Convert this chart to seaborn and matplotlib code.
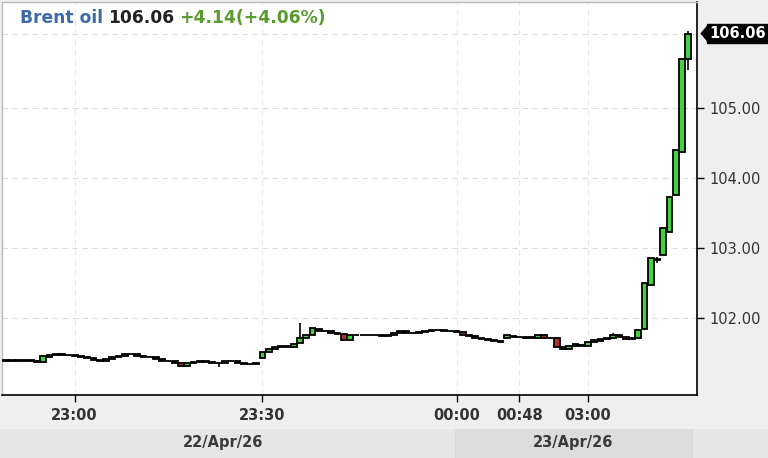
import matplotlib
matplotlib.use('Agg')
import matplotlib.pyplot as plt
import matplotlib.transforms as mtransforms
from matplotlib.patches import Rectangle, Polygon
import seaborn as sns

# one-minute candles, index 0 .. 109
opens = [101.40, 101.39, 101.40, 101.38, 101.40, 101.39, 101.37, 101.44, 101.47, 101.48,
         101.47, 101.47, 101.46, 101.44, 101.43, 101.40, 101.39, 101.41, 101.44, 101.46,
         101.48, 101.49, 101.46, 101.44, 101.44, 101.41, 101.39, 101.38, 101.36, 101.32,
         101.36, 101.37, 101.38, 101.37, 101.36, 101.36, 101.38, 101.39, 101.36, 101.34,
         101.34, 101.43, 101.51, 101.56, 101.58, 101.60, 101.58, 101.64, 101.71, 101.76,
         101.84, 101.82, 101.81, 101.79, 101.77, 101.69, 101.75, 101.76, 101.76, 101.75,
         101.75, 101.74, 101.76, 101.78, 101.81, 101.79, 101.78, 101.80, 101.82, 101.83,
         101.83, 101.82, 101.81, 101.80, 101.76, 101.74, 101.71, 101.70, 101.68, 101.67,
         101.72, 101.74, 101.73, 101.73, 101.72, 101.72, 101.75, 101.72, 101.71, 101.59,
         101.56, 101.60, 101.62, 101.60, 101.65, 101.67, 101.70, 101.71, 101.75, 101.73,
         101.70, 101.72, 101.84, 102.47, 102.84, 102.90, 103.23, 103.76, 104.37, 105.69]
closes = [101.39, 101.40, 101.38, 101.40, 101.39, 101.37, 101.46, 101.47, 101.48, 101.47,
          101.47, 101.46, 101.44, 101.43, 101.40, 101.39, 101.41, 101.44, 101.46, 101.48,
          101.49, 101.46, 101.44, 101.44, 101.41, 101.39, 101.38, 101.36, 101.32, 101.36,
          101.37, 101.38, 101.37, 101.36, 101.36, 101.38, 101.39, 101.36, 101.34, 101.34,
          101.36, 101.51, 101.56, 101.58, 101.60, 101.58, 101.63, 101.72, 101.75, 101.85,
          101.82, 101.81, 101.79, 101.77, 101.69, 101.75, 101.76, 101.76, 101.75, 101.75,
          101.74, 101.76, 101.79, 101.81, 101.79, 101.78, 101.80, 101.82, 101.83, 101.83,
          101.82, 101.81, 101.80, 101.76, 101.74, 101.71, 101.70, 101.68, 101.67, 101.66,
          101.75, 101.73, 101.73, 101.72, 101.73, 101.76, 101.72, 101.71, 101.59, 101.55,
          101.60, 101.63, 101.60, 101.65, 101.68, 101.70, 101.71, 101.75, 101.73, 101.70,
          101.72, 101.83, 102.50, 102.86, 102.82, 103.29, 103.72, 104.40, 105.69, 106.06]
wick_high = {9: 101.50, 47: 101.93, 97: 101.79, 104: 102.87, 109: 106.10}
wick_low = {34: 101.30, 104: 102.78, 109: 105.54}

tick_pos = [11, 41, 72, 82, 93]
tick_labels = ['23:00', '23:30', '00:00', '00:48', '03:00']
y_ticks = [102, 103, 104, 105]
last_price = 106.06
title_parts = [('Brent oil', '#3d6aa8'), ('106.06', '#222222'), ('+4.14(+4.06%)', '#5b9b2e')]
date_labels = ['22/Apr/26', '23/Apr/26']

sns.set_style('white')
plt.rcParams['font.family'] = ['DejaVu Sans']

W, H = 768, 458
fig = plt.figure(figsize=(W / 100, H / 100), dpi=100, facecolor='#efefef')

# date band under the axis
fig.patches.append(Rectangle((0, 0), 1, 29 / H, transform=fig.transFigure,
                             fc='#e6e6e6', ec='none', zorder=0))
fig.patches.append(Rectangle((455 / W, 0), 238 / W, 29 / H, transform=fig.transFigure,
                             fc='#dcdcdc', ec='none', zorder=0))
fig.text(223 / W, 16 / H, date_labels[0], ha='center', va='center', fontsize=10.5,
         fontweight='bold', color='#3a3a3a')
fig.text(573 / W, 16 / H, date_labels[1], ha='center', va='center', fontsize=10.5,
         fontweight='bold', color='#3a3a3a')

ax = fig.add_axes([2 / W, 63 / H, 695 / W, 393 / H])
ax.set_facecolor('white')

n = len(opens)
xs = list(range(n))
highs = [wick_high.get(i, max(opens[i], closes[i])) for i in xs]
lows = [wick_low.get(i, min(opens[i], closes[i])) for i in xs]
colors = ['#3fd43f' if closes[i] >= opens[i] else '#b23232' for i in xs]

ax.vlines(xs, lows, highs, color='black', linewidth=1.2, zorder=2)
ax.bar(xs, [closes[i] - opens[i] for i in xs], bottom=opens, width=0.92,
       color=colors, edgecolor='black', linewidth=1.3, zorder=3)

ax.set_xlim(-0.6, 110.4)
ax.set_ylim(100.9, 106.51)

ax.yaxis.tick_right()
ax.set_yticks(y_ticks)
ax.set_yticklabels([f'{v:.2f}' for v in y_ticks])
ax.set_xticks(tick_pos)
ax.set_xticklabels(tick_labels, fontweight='bold')
ax.tick_params(axis='both', direction='out', length=5, width=1, color='black',
               labelsize=10.5, labelcolor='#333333', pad=4)
ax.tick_params(axis='y', right=True, left=False)
ax.tick_params(axis='x', bottom=True)

for v in y_ticks + [last_price]:
    ax.axhline(v, color='#dddddd', linewidth=0.8, linestyle=(0, (5, 4)), zorder=1)
for p in tick_pos:
    ax.axvline(p, color='#e8e8e8', linewidth=0.8, linestyle=(0, (5, 4)), zorder=1)

for side in ['top', 'left']:
    ax.spines[side].set_color('#bbbbbb')
    ax.spines[side].set_linewidth(1)
for side in ['bottom', 'right']:
    ax.spines[side].set_color('black')
    ax.spines[side].set_linewidth(1.2)
    ax.spines[side].set_visible(True)

# current price marker: black box with a small pointer
trans = mtransforms.blended_transform_factory(ax.transAxes, ax.transData)
lbl = ax.text(1 + 12 / 695, last_price, f'{last_price:.2f}', transform=trans, ha='left',
              va='center', fontsize=10.5, fontweight='bold', color='white', clip_on=False,
              bbox=dict(boxstyle='square,pad=0.12', fc='black', ec='black'))

fig.canvas.draw()
renderer = fig.canvas.get_renderer()
box = lbl.get_bbox_patch().get_window_extent(renderer)
ymid = (box.y0 + box.y1) / 2
tri = Polygon([(box.x0 + 1, box.y0 + 1), (box.x0 + 1, box.y1 - 1), (box.x0 - 6, ymid)],
              closed=True, fc='black', ec='black', transform=None)
fig.patches.append(tri)

# header text
x0 = 20 / W
for txt, col in title_parts:
    t = fig.text(x0, 1 - 18 / H, txt, ha='left', va='center', fontsize=12.3,
                 fontweight='bold', color=col)
    bb = t.get_window_extent(renderer)
    x0 = bb.x1 / W + 5 / W

fig.savefig('out.png', dpi=100, facecolor=fig.get_facecolor())
